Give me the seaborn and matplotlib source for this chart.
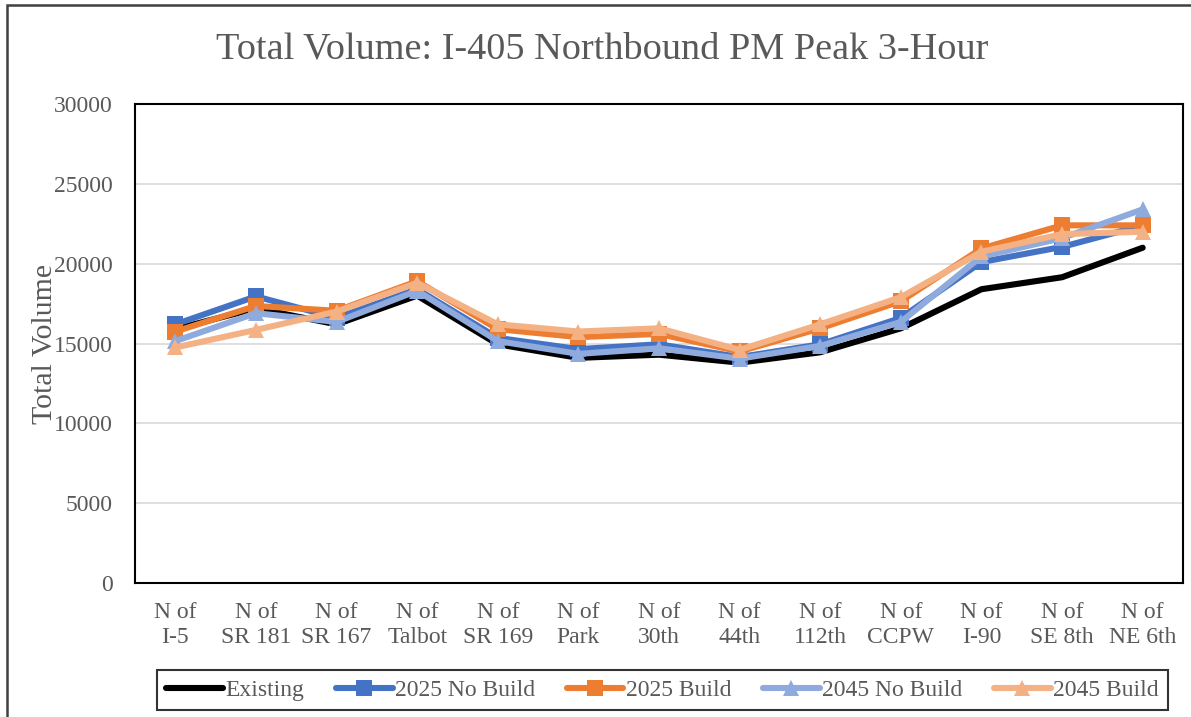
import pandas as pd
import seaborn as sns
from matplotlib import pyplot as plt
from matplotlib.patches import Rectangle

locations = ["N of\nI-5", "N of\nSR 181", "N of\nSR 167", "N of\nTalbot", "N of\nSR 169",
             "N of\nPark", "N of\n30th", "N of\n44th", "N of\n112th", "N of\nCCPW",
             "N of\nI-90", "N of\nSE 8th", "N of\nNE 6th"]

existing = [15900, 17200, 16200, 18000, 14950, 14100, 14300, 13800, 14450, 15950, 18400, 19150, 21000]
nobuild_2025 = [16200, 17950, 16600, 18400, 15350, 14650, 14950, 14150, 14950, 16600, 20100, 21050, 22400]
build_2025 = [15750, 17350, 17050, 18900, 15900, 15400, 15600, 14500, 15950, 17650, 20950, 22400, 22400]
nobuild_2045 = [15150, 16900, 16350, 18300, 15150, 14350, 14700, 14050, 14850, 16350, 20450, 21600, 23400]
build_2045 = [14750, 15850, 17000, 18800, 16200, 15750, 15950, 14600, 16200, 17900, 20750, 21850, 22000]

series_names = ["Existing", "2025 No Build", "2025 Build", "2045 No Build", "2045 Build"]
series_values = [existing, nobuild_2025, build_2025, nobuild_2045, build_2045]
colors = ["#000000", "#4472C4", "#ED7D31", "#8FAADC", "#F4B183"]
markers = [None, "s", "s", "^", "^"]

rows = []
for name, vals in zip(series_names, series_values):
    for loc, v in zip(locations, vals):
        rows.append([name, loc, v])
df = pd.DataFrame(rows, columns=["scenario", "location", "volume"])

sns.set_style("white")
plt.rcParams["font.family"] = ["Liberation Serif", "DejaVu Serif"]
text_color = "#595959"

fig = plt.figure(figsize=(11.91, 7.17), dpi=100)
ax = fig.add_axes([135 / 1191, 134 / 717, 1048 / 1191, 479 / 717])

for name, color, marker in zip(series_names, colors, markers):
    sns.lineplot(data=df[df["scenario"] == name], x="location", y="volume",
                 color=color, marker=marker, sort=False, label=name,
                 linewidth=4.4, markersize=11, markeredgewidth=0, ax=ax)

ax.set_xlim(-0.5, len(locations) - 0.5)
ax.set_ylim(0, 30000)
ax.set_yticks(range(0, 30001, 5000))
ax.grid(axis="y", color="#d9d9d9", linewidth=1.2)
ax.set_axisbelow(True)
for s in ax.spines.values():
    s.set_color("#000000")
    s.set_linewidth(1.5)

ax.tick_params(axis="both", length=0, labelsize=17, labelcolor=text_color)
ax.tick_params(axis="x", pad=14)
ax.tick_params(axis="y", pad=16)
ax.set_xlabel("")
ax.set_ylabel("Total Volume", fontsize=21.5, color=text_color)
ax.yaxis.set_label_coords(-0.073, 0.5)

fig.text(0.506, 0.932, "Total Volume: I-405 Northbound PM Peak 3-Hour",
         ha="center", va="center", fontsize=27.5, color=text_color)

handles, labels = ax.get_legend_handles_labels()
ax.get_legend().remove()
leg = fig.legend(handles, labels, ncol=5, loc="center", mode="expand",
                 bbox_to_anchor=(157 / 1191, 6 / 717, 1011 / 1191, 42 / 717),
                 frameon=True, fancybox=False, fontsize=17, handlelength=2.4,
                 handletextpad=0.1, borderaxespad=0)
leg.get_frame().set_edgecolor("#000000")
leg.get_frame().set_linewidth(1.5)
for t in leg.get_texts():
    t.set_color(text_color)

fig.patches.append(Rectangle((7 / 1191, -0.1), 1.2, 1 - 5 / 717 + 0.1,
                             transform=fig.transFigure, fill=False,
                             edgecolor="#404040", linewidth=1.8))

fig.savefig("out.png", dpi=100)
